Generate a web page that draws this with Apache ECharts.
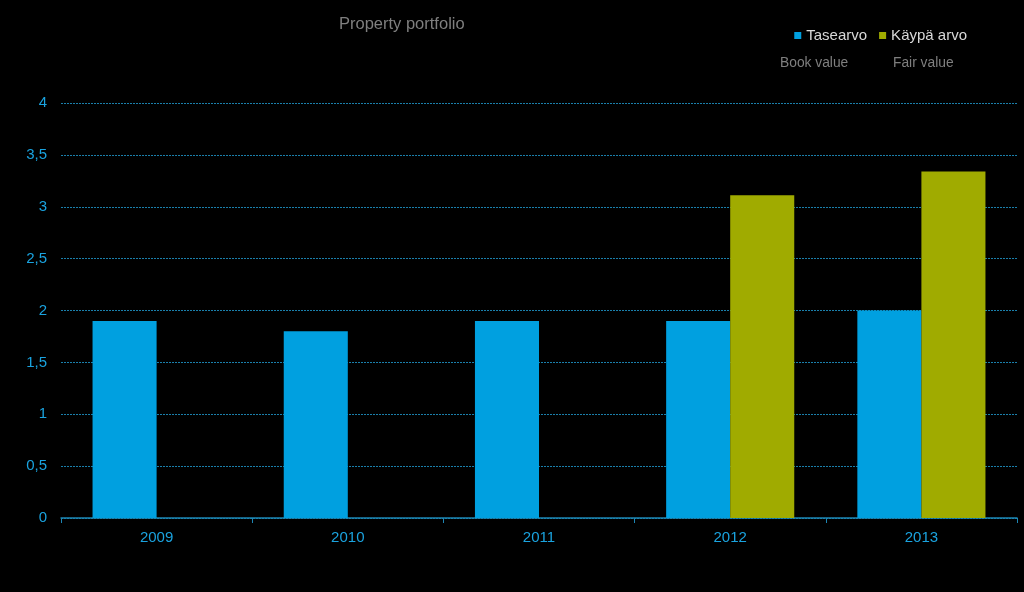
<!DOCTYPE html>
<html><head><meta charset="utf-8">
<script src="https://cdn.jsdelivr.net/npm/echarts@6/dist/echarts.min.js"></script>
<style>html,body{margin:0;padding:0;background:#000;}#c{width:1024px;height:592px;}</style>
</head><body><div id="c"></div>
<script>
const categories = ['2009','2010','2011','2012','2013'];
const bookValue = [1.9, 1.8, 1.9, 1.9, 2.0];
const fairValue = [null, null, null, 3.11, 3.34];
const yTicks = [0, 0.5, 1, 1.5, 2, 2.5, 3, 3.5, 4];

const chart = echarts.init(document.getElementById('c'));
chart.setOption({
  backgroundColor: '#000',
  animation: false,
  title: {text: 'Property portfolio', left: 334, top: 11,
    textStyle: {color: '#7f7f7f', fontSize: 16.5, fontWeight: 'normal', fontFamily: 'Liberation Sans'}},
  legend: {right: 52, top: 23, itemWidth: 7, itemHeight: 7, itemGap: 12, icon: 'rect',
    textStyle: {color: '#d8d8d8', fontSize: 15, fontFamily: 'Liberation Sans'},
    data: ['Tasearvo', 'Käypä arvo']},
  graphic: [
    {type: 'text', left: 780, top: 56, style: {text: 'Book value', fill: '#7f7f7f', fontSize: 13.8, fontFamily: 'Liberation Sans'}},
    {type: 'text', left: 893, top: 56, style: {text: 'Fair value', fill: '#7f7f7f', fontSize: 13.8, fontFamily: 'Liberation Sans'}}
  ],
  grid: {left: 61, right: 7, top: 103, bottom: 74},
  xAxis: {type: 'category', data: categories,
    axisLine: {lineStyle: {color: '#1d86b4', width: 1.5}},
    axisTick: {show: true, length: 5, lineStyle: {color: '#1d86b4'}},
    axisLabel: {color: '#1aa3df', fontSize: 15, margin: 12, fontFamily: 'Liberation Sans'}},
  yAxis: {type: 'value', min: 0, max: 4, interval: 0.5,
    axisLabel: {color: '#1aa3df', fontSize: 15, margin: 14, fontFamily: 'Liberation Sans',
      formatter: v => String(v).replace('.', ',')},
    splitLine: {lineStyle: {color: '#1a7fab', type: [2, 1], width: 1}},
    axisLine: {show: false}, axisTick: {show: false}},
  series: [
    {name: 'Tasearvo', type: 'bar', data: bookValue, barGap: '0%', barCategoryGap: '33%',
      itemStyle: {color: '#00a0e0'}},
    {name: 'Käypä arvo', type: 'bar', data: fairValue,
      itemStyle: {color: '#a0ab00'}}
  ]
});
</script></body></html>
